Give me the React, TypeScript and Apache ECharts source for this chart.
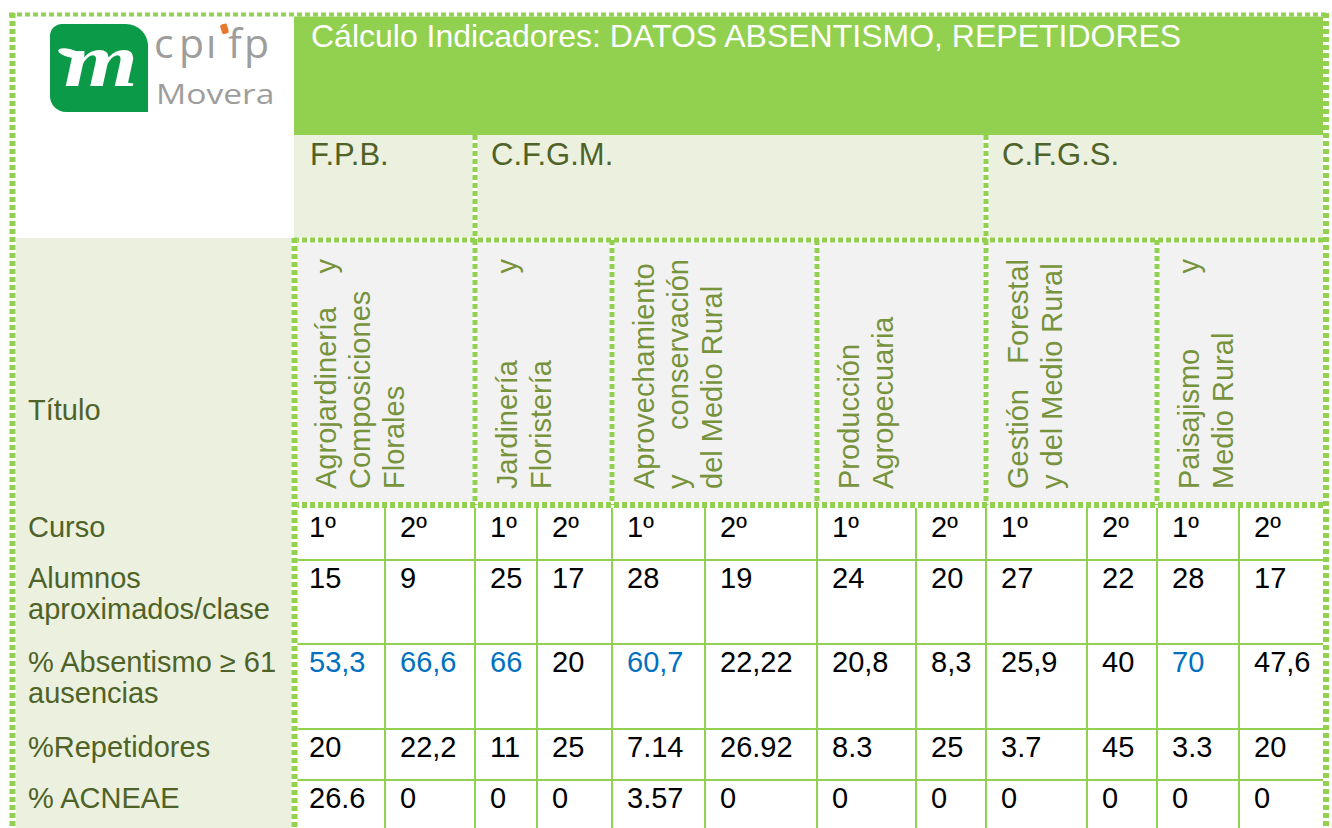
import React, { useEffect, useRef } from "react";
import * as echarts from "echarts";

// ---------- DATA ----------
const tituloCabecera = "Cálculo Indicadores: DATOS ABSENTISMO, REPETIDORES";
const familias = ["F.P.B.", "C.F.G.M.", "C.F.G.S."];
const ciclosPorFamilia = [1, 3, 2];
// each ciclo: lines of [bottom-aligned text, top-aligned text]
const titulos: string[][][] = [
  [["Agrojardinería", "y"], ["Composiciones", ""], ["Florales", ""]],
  [["Jardinería", "y"], ["Floristería", ""]],
  [["Aprovechamiento", ""], ["y", "conservación"], ["del Medio Rural", ""]],
  [["Producción", ""], ["Agropecuaria", ""]],
  [["Gestión", "Forestal"], ["y del Medio Rural", ""]],
  [["Paisajismo", "y"], ["Medio Rural", ""]],
];
const etiquetaTitulo = "Título";
const etiquetasFilas: string[][] = [
  ["Curso"],
  ["Alumnos", "aproximados/clase"],
  ["% Absentismo ≥ 61", "ausencias"],
  ["%Repetidores"],
  ["% ACNEAE"],
];
const cursos = ["1º", "2º", "1º", "2º", "1º", "2º", "1º", "2º", "1º", "2º", "1º", "2º"];
const alumnos = ["15", "9", "25", "17", "28", "19", "24", "20", "27", "22", "28", "17"];
const absentismo = ["53,3", "66,6", "66", "20", "60,7", "22,22", "20,8", "8,3", "25,9", "40", "70", "47,6"];
const repetidores = ["20", "22,2", "11", "25", "7.14", "26.92", "8.3", "25", "3.7", "45", "3.3", "20"];
const acneae = ["26.6", "0", "0", "0", "3.57", "0", "0", "0", "0", "0", "0", "0"];
const umbralAbsentismo = 50;

// ---------- LAYOUT / STYLE ----------
const COL_X = [294, 385, 475, 537, 612, 705, 817, 916, 986, 1087, 1157, 1239, 1322];
const ROW_Y = [505, 560, 644, 729, 780, 828];
const GREEN = "#92D050";
const LIGHT = "#EBF1DE";
const GRAY = "#F2F2F2";
const OLIVE = "#4F6228";
const TGREEN = "#77933C";
const BLUE = "#0070C0";
const FONT = '"Liberation Sans", Arial, sans-serif';

function txt(x: number, y: number, text: string, size: number, fill: string, align = "left", extra: any = {}) {
  return {
    type: "text",
    x,
    y,
    z: 10,
    ...extra,
    style: {
      text,
      fill,
      fontSize: size,
      fontFamily: extra.fontFamily || FONT,
      fontWeight: extra.fontWeight || "normal",
      fontStyle: extra.fontStyle || "normal",
      textAlign: align,
      align,
      textVerticalAlign: "middle",
      verticalAlign: "middle",
    },
  };
}

function dashed(x1: number, y1: number, x2: number, y2: number, w = 5, z = 5) {
  return [
    { type: "line", z, shape: { x1, y1, x2, y2 }, style: { stroke: "#ffffff", lineWidth: w } },
    { type: "line", z: z + 1, shape: { x1, y1, x2, y2 }, style: { stroke: GREEN, lineWidth: w, lineDash: [5, 3] } },
  ];
}

function solid(x1: number, y1: number, x2: number, y2: number) {
  return { type: "line", z: 4, shape: { x1, y1, x2, y2 }, style: { stroke: GREEN, lineWidth: 2 } };
}

function buildElements() {
  const els: any[] = [];
  // backgrounds
  els.push({ type: "rect", z: 1, shape: { x: 294, y: 16, width: 1030, height: 119 }, style: { fill: GREEN } });
  els.push({ type: "rect", z: 1, shape: { x: 294, y: 135, width: 1030, height: 105 }, style: { fill: LIGHT } });
  els.push({ type: "rect", z: 1, shape: { x: 16, y: 238, width: 276, height: 590 }, style: { fill: LIGHT } });
  els.push({ type: "rect", z: 1, shape: { x: 294, y: 240, width: 1030, height: 265 }, style: { fill: GRAY } });

  // logo
  els.push({ type: "rect", z: 2, shape: { x: 50, y: 24, width: 98, height: 88, r: [12, 22, 0, 16] }, style: { fill: "#0B9A48" } });
  els.push(txt(101, 60, "m", 76, "#ffffff", "center", { fontFamily: '"Liberation Serif", serif', fontWeight: "bold", fontStyle: "italic", scaleX: 1.25 }));
  els.push({ type: "ellipse", z: 11, rotation: -0.25, x: 69, y: 53, shape: { cx: 0, cy: 0, rx: 11, ry: 4 }, style: { fill: "#ffffff" } });
  const LG = "#9D9D9C";
  const LF = '"Open Sans", sans-serif';
  els.push(txt(154, 42, "c", 41, LG, "left", { fontFamily: LF }));
  els.push(txt(179, 42, "p", 41, LG, "left", { fontFamily: LF }));
  els.push(txt(206, 42, "ı", 41, LG, "left", { fontFamily: LF }));
  els.push({ type: "rect", z: 12, rotation: 0.3, x: 224, y: 29, shape: { x: -3, y: -5, width: 7, height: 10, r: 2 }, style: { fill: "#E8792D" } });
  els.push(txt(228, 42, "f", 41, LG, "left", { fontFamily: LF }));
  els.push(txt(244, 42, "p", 41, LG, "left", { fontFamily: LF }));
  els.push(txt(156, 93, "Movera", 28, LG, "left", { fontFamily: LF, scaleX: 1.2 }));

  // header texts
  els.push(txt(311, 36, tituloCabecera, 32, "#ffffff"));
  let ci = 0;
  familias.forEach((f, i) => {
    const left = COL_X[ci * 2];
    els.push(txt(left + 16, 154, f, 31, OLIVE));
    ci += ciclosPorFamilia[i];
    if (i < familias.length - 1) els.push(...dashed(COL_X[ci * 2], 135, COL_X[ci * 2], 240));
  });

  // title row (vertical texts)
  titulos.forEach((lines, c) => {
    const left = COL_X[c * 2];
    lines.forEach((ln, li) => {
      const x = left + 32 + li * 34;
      if (ln[0]) els.push(txt(x, 489, ln[0], 29, TGREEN, "left", { rotation: Math.PI / 2 }));
      if (ln[1]) els.push(txt(x, 259, ln[1], 29, TGREEN, "right", { rotation: Math.PI / 2 }));
    });
    if (c > 0) els.push(...dashed(left, 240, left, 505));
  });
  els.push(...dashed(294, 240, 1326, 240, 5));
  els.push(...dashed(294, 505, 1326, 505, 6));

  // row labels
  els.push(txt(28, 410, etiquetaTitulo, 29, OLIVE));
  const tables = [cursos, alumnos, absentismo, repetidores, acneae];
  etiquetasFilas.forEach((lab, r) => {
    const y0 = ROW_Y[r] + (r === 0 ? 22 : 18);
    lab.forEach((l, k) => els.push(txt(28, y0 + k * 31, l, 29, OLIVE)));
    tables[r].forEach((v, c) => {
      let color = "#000000";
      if (tables[r] === absentismo && parseFloat(v.replace(",", ".")) > umbralAbsentismo) color = BLUE;
      els.push(txt(COL_X[c] + 15, y0, v, 29, color));
    });
  });

  // grid
  for (let r = 1; r < ROW_Y.length - 1; r++) els.push(solid(297, ROW_Y[r], 1324, ROW_Y[r]));
  for (let c = 1; c < COL_X.length - 1; c++) els.push(solid(COL_X[c], 508, COL_X[c], 828));

  // outer borders
  els.push(...dashed(9, 14.5, 1329, 14.5, 4, 7));
  els.push(...dashed(12.5, 13, 12.5, 828, 6, 7));
  els.push(...dashed(1326, 13, 1326, 828, 6, 7));
  els.push(...dashed(294.5, 238, 294.5, 828, 6, 7));
  return els;
}

export default function App() {
  const ref = useRef<HTMLDivElement>(null);
  useEffect(() => {
    document.body.style.margin = "0";
    const chart = echarts.init(ref.current!, undefined, { renderer: "svg" });
    chart.setOption({
      animation: false,
      backgroundColor: "#ffffff",
      graphic: { elements: buildElements() },
    });
    return () => chart.dispose();
  }, []);
  return <div ref={ref} style={{ width: 1332, height: 828 }} />;
}
